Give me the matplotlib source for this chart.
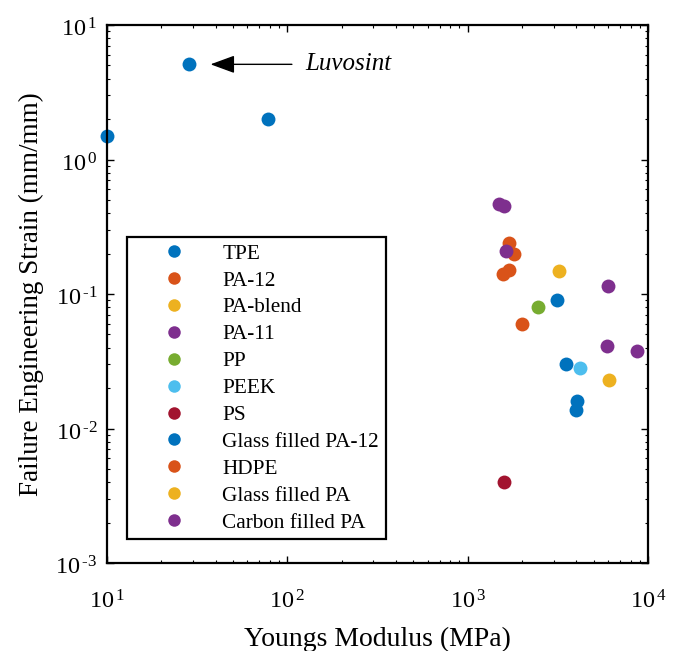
import matplotlib
matplotlib.use("Agg")
import matplotlib.pyplot as plt
import matplotlib.transforms as mtrans
from matplotlib.ticker import LogLocator, NullFormatter, FuncFormatter
import numpy as np

plt.rcParams['font.family'] = ['Liberation Serif', 'DejaVu Serif']
plt.rcParams['mathtext.fontset'] = 'custom'
plt.rcParams['mathtext.rm'] = 'Liberation Serif'
plt.rcParams['mathtext.it'] = 'Liberation Serif:italic'

categories = ["TPE", "PA-12", "PA-blend", "PA-11", "PP", "PEEK", "PS",
              "Glass filled PA-12", "HDPE", "Glass filled PA", "Carbon filled PA"]
colors = ["#0072BD", "#D95319", "#EDB120", "#7E2F8E", "#77AC30", "#4DBEEE",
          "#A2142F", "#0072BD", "#D95319", "#EDB120", "#7E2F8E"]

modulus = {
    "TPE": [10, 28.5, 78],
    "PA-12": [1700, 1800, 1580, 1700],
    "PA-blend": [3230],
    "PA-11": [1500, 1600, 1630],
    "PP": [2470],
    "PEEK": [4200],
    "PS": [1600],
    "Glass filled PA-12": [3140, 3520, 4030, 3990],
    "HDPE": [2000],
    "Glass filled PA": [6080],
    "Carbon filled PA": [6030, 5940, 8700],
}
strain = {
    "TPE": [1.5, 5.1, 2.0],
    "PA-12": [0.24, 0.20, 0.141, 0.151],
    "PA-blend": [0.148],
    "PA-11": [0.47, 0.45, 0.21],
    "PP": [0.080],
    "PEEK": [0.028],
    "PS": [0.0040],
    "Glass filled PA-12": [0.090, 0.030, 0.016, 0.0138],
    "HDPE": [0.060],
    "Glass filled PA": [0.023],
    "Carbon filled PA": [0.114, 0.041, 0.038],
}

fig = plt.figure(figsize=(6.78, 6.51), dpi=100)
ax = fig.add_axes([107/678, 1-563/651, (648-107)/678, (563-25)/651])

for cat, col in zip(categories, colors):
    ax.plot(modulus[cat], strain[cat], linestyle='none', marker='o',
            markersize=10, color=col, markeredgewidth=0, label=cat, clip_on=False)

ax.set_xscale('log')
ax.set_yscale('log')
ax.set_xlim(10, 1e4)
ax.set_ylim(1e-3, 10)

def fmt(v, pos):
    e = int(round(np.log10(v)))
    s = ('\u2010%d' % -e) if e < 0 else ('%d' % e)
    return r'$\mathregular{10^{\,' + s + '}}$'

for axis in (ax.xaxis, ax.yaxis):
    axis.set_major_locator(LogLocator(base=10, numticks=10))
    axis.set_major_formatter(FuncFormatter(fmt))
    axis.set_minor_locator(LogLocator(base=10, subs=range(2, 10), numticks=100))
    axis.set_minor_formatter(NullFormatter())

ax.tick_params(which='both', direction='in', top=True, right=True)
ax.tick_params(which='major', length=5, width=1.0, labelsize=17.5)
ax.tick_params(axis='x', which='major', pad=20)
ax.tick_params(axis='y', which='major', pad=7)
ax.tick_params(which='minor', length=2.5, width=0.8)
for s in ax.spines.values():
    s.set_linewidth(1.6)

off = mtrans.ScaledTranslation(0, -2/72, fig.dpi_scale_trans)
for lab in ax.get_yticklabels():
    lab.set_transform(lab.get_transform() + off)

ax.set_xlabel("Youngs Modulus (MPa)", fontsize=20, labelpad=9)
ax.set_ylabel("Failure Engineering Strain (mm/mm)", fontsize=19.5, labelpad=8)

ax.annotate("", xy=(37.5, 5.1), xytext=(106, 5.1),
            arrowprops=dict(arrowstyle='-|>,head_length=1.5,head_width=0.55',
                            color='black', lw=1.0, shrinkA=0, shrinkB=0))
ax.text(125, 5.1, "Luvosint", fontsize=18, style='italic', va='center', ha='left')

fs = 15.3
leg = ax.legend(loc='upper left', bbox_to_anchor=(127/678, 1-237/651),
                bbox_transform=fig.transFigure, fontsize=fs, frameon=True,
                fancybox=False, edgecolor='black', framealpha=1,
                handlelength=3.75, handletextpad=0.42, borderpad=0.32,
                labelspacing=0.33, numpoints=1, borderaxespad=0)
leg.get_frame().set_linewidth(1.6)
for h in leg.legend_handles:
    h.set_markersize(9)

fig.savefig("out.png", dpi=100)
